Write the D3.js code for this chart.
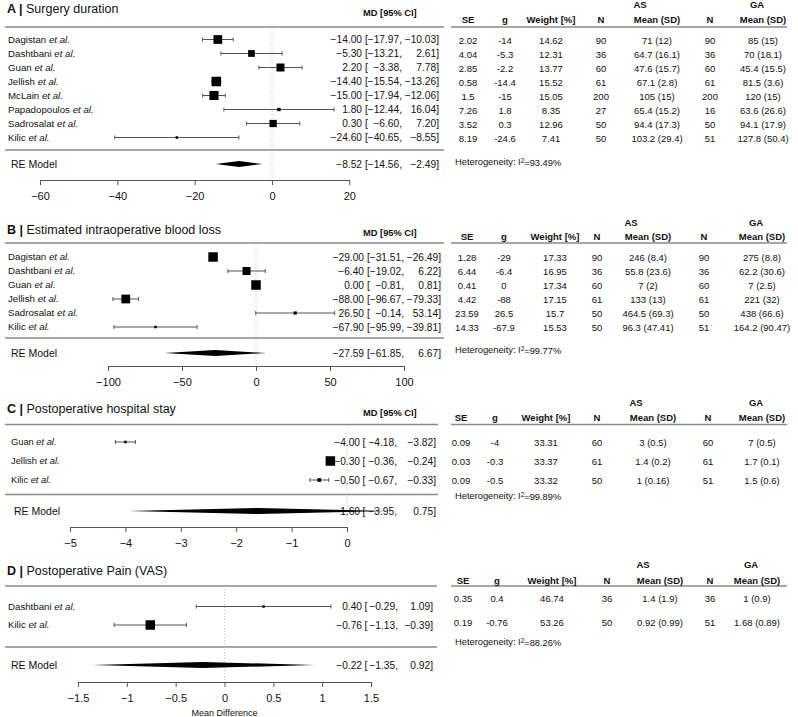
<!DOCTYPE html>
<html>
<head>
<meta charset="utf-8">
<script src="https://cdn.jsdelivr.net/npm/d3@7"></script>
<style>
  body { margin: 0; background: #fff; }
  svg text { font-family: "Liberation Sans", Arial, Helvetica, sans-serif; fill: #111; }
</style>
</head>
<body>
<svg id="fig" width="798" height="717"></svg>
<script>
// ---------- data ----------

// A | Surgery duration
const studiesA = ["Dagistan", "Dashtbani", "Guan", "Jellish", "McLain", "Papadopoulos", "Sadrosalat", "Kilic"];
const mdA = [-14.00, -5.30, 2.20, -14.40, -15.00, 1.80, 0.30, -24.60];
const loA = [-17.97, -13.21, -3.38, -15.54, -17.94, -12.44, -6.60, -40.65];
const hiA = [-10.03, 2.61, 7.78, -13.26, -12.06, 16.04, 7.20, -8.55];
const seA = ["2.02", "4.04", "2.85", "0.58", "1.5", "7.26", "3.52", "8.19"];
const gA = ["-14", "-5.3", "-2.2", "-14.4", "-15", "1.8", "0.3", "-24.6"];
const weightA = [14.62, 12.31, 13.77, 15.52, 15.05, 8.35, 12.96, 7.41];
const nAsA = [90, 36, 60, 61, 200, 27, 50, 50];
const meanAsA = ["71 (12)", "64.7 (16.1)", "47.6 (15.7)", "67.1 (2.8)", "105 (15)", "65.4 (15.2)", "94.4 (17.3)", "103.2 (29.4)"];
const nGaA = [90, 36, 60, 61, 200, 16, 50, 51];
const meanGaA = ["85 (15)", "70 (18.1)", "45.4 (15.5)", "81.5 (3.6)", "120 (15)", "63.6 (26.6)", "94.1 (17.9)", "127.8 (50.4)"];
const reA = [-8.52, -14.56, -2.49];
const i2A = "93.49%";
const ticksA = [-60, -40, -20, 0, 20];

// B | Estimated intraoperative blood loss
const studiesB = ["Dagistan", "Dashtbani", "Guan", "Jellish", "Sadrosalat", "Kilic"];
const mdB = [-29.00, -6.40, 0.00, -88.00, 26.50, -67.90];
const loB = [-31.51, -19.02, -0.81, -96.67, -0.14, -95.99];
const hiB = [-26.49, 6.22, 0.81, -79.33, 53.14, -39.81];
const seB = ["1.28", "6.44", "0.41", "4.42", "23.59", "14.33"];
const gB = ["-29", "-6.4", "0", "-88", "26.5", "-67.9"];
const weightB = [17.33, 16.95, 17.34, 17.15, 15.7, 15.53];
const nAsB = [90, 36, 60, 61, 50, 50];
const meanAsB = ["246 (8.4)", "55.8 (23.6)", "7 (2)", "133 (13)", "464.5 (69.3)", "96.3 (47.41)"];
const nGaB = [90, 36, 60, 61, 50, 51];
const meanGaB = ["275 (8.8)", "62.2 (30.6)", "7 (2.5)", "221 (32)", "438 (66.6)", "164.2 (90.47)"];
const reB = [-27.59, -61.85, 6.67];
const i2B = "99.77%";
const ticksB = [-100, -50, 0, 50, 100];

// C | Postoperative hospital stay
const studiesC = ["Guan", "Jellish", "Kilic"];
const mdC = [-4.00, -0.30, -0.50];
const loC = [-4.18, -0.36, -0.67];
const hiC = [-3.82, -0.24, -0.33];
const seC = ["0.09", "0.03", "0.09"];
const gC = ["-4", "-0.3", "-0.5"];
const weightC = [33.31, 33.37, 33.32];
const nAsC = [60, 61, 50];
const meanAsC = ["3 (0.5)", "1.4 (0.2)", "1 (0.16)"];
const nGaC = [60, 61, 51];
const meanGaC = ["7 (0.5)", "1.7 (0.1)", "1.5 (0.6)"];
const reC = [-1.60, -3.95, 0.75];
const i2C = "99.89%";
const ticksC = [-5, -4, -3, -2, -1, 0];

// D | Postoperative Pain (VAS)
const studiesD = ["Dashtbani", "Kilic"];
const mdD = [0.40, -0.76];
const loD = [-0.29, -1.13];
const hiD = [1.09, -0.39];
const seD = ["0.35", "0.19"];
const gD = ["0.4", "-0.76"];
const weightD = [46.74, 53.26];
const nAsD = [36, 50];
const meanAsD = ["1.4 (1.9)", "0.92 (0.99)"];
const nGaD = [36, 51];
const meanGaD = ["1 (0.9)", "1.68 (0.89)"];
const reD = [-0.22, -1.35, 0.92];
const i2D = "88.26%";
const ticksD = [-1.5, -1, -0.5, 0, 0.5, 1, 1.5];

const headers = ["SE", "g", "Weight [%]", "N", "Mean (SD)", "N", "Mean (SD)"];

// ---------- panels ----------

const panels = [
  { letter: "A", title: "Surgery duration", studies: studiesA, md: mdA, lo: loA, hi: hiA,
    cells: [seA, gA, weightA, nAsA, meanAsA, nGaA, meanGaA], weight: weightA, re: reA, i2: i2A, ticks: ticksA,
    L: { title: 9, md: 13, asga: 5, head: 20, top: 27, row0: 39.5, step: 14, bottom: 150, re: 164, het: 162,
         axis: 180, xRange: [40, 349.3], lab: 8, ci: [362, 365, 402, 439], lineEnd: 444,
         cols: [468, 505, 551, 601, 657, 710, 763] } },
  { letter: "B", title: "Estimated intraoperative blood loss", studies: studiesB, md: mdB, lo: loB, hi: hiB,
    cells: [seB, gB, weightB, nAsB, meanAsB, nGaB, meanGaB], weight: weightB, re: reB, i2: i2B, ticks: ticksB,
    L: { title: 230, md: 233, asga: 223, head: 237, top: 243, row0: 257, step: 14, bottom: 338, re: 353, het: 350,
         axis: 366, xRange: [108, 404], lab: 8, ci: [364, 367, 404, 441], lineEnd: 444,
         cols: [467, 504, 555, 597, 648, 704, 762] } },
  { letter: "C", title: "Postoperative hospital stay", studies: studiesC, md: mdC, lo: loC, hi: hiC,
    cells: [seC, gC, weightC, nAsC, meanAsC, nGaC, meanGaC], weight: weightC, re: reC, i2: i2C, ticks: ticksC,
    L: { title: 409, md: 413, asga: 403, head: 418, top: 424.5, row0: 442, step: 19, bottom: 494.5, re: 511, het: 496,
         axis: 527, xRange: [70, 347], lab: 11, ci: [360, 362.5, 397, 436], lineEnd: 438, small: true,
         cols: [461, 495, 546, 597, 653, 708, 762] } },
  { letter: "D", title: "Postoperative Pain (VAS)", studies: studiesD, md: mdD, lo: loD, hi: hiD,
    cells: [seD, gD, weightD, nAsD, meanAsD, nGaD, meanGaD], weight: weightD, re: reD, i2: i2D, ticks: ticksD,
    L: { title: 571, md: null, asga: 565, head: 580.5, top: 586, row0: 606.5, step: 18.5, bottom: 647, re: 665, het: 642,
         axis: 682, xRange: [78, 371], lab: 8, ci: [362, 364.5, 398, 433], lineEnd: 437, tab0: 599, tabStep: 23.5,
         cols: [463, 497, 552, 607, 660, 710, 757], xlabel: "Mean Difference" } }
];

const svg = d3.select("#fig");
const fmt2 = d3.format(".2f");
const tickFmt = d3.format("~g");

function ciText(g, L, y, est, lo, hi) {
  const t = g.append("g").style("font-size", "10.2px");
  t.append("text").attr("x", L.ci[0]).attr("y", y).attr("dy", "0.35em").attr("text-anchor", "end").text(fmt2(est));
  t.append("text").attr("x", L.ci[1]).attr("y", y).attr("dy", "0.35em").text("[");
  t.append("text").attr("x", L.ci[2]).attr("y", y).attr("dy", "0.35em").attr("text-anchor", "end").text(fmt2(lo) + ",");
  t.append("text").attr("x", L.ci[3]).attr("y", y).attr("dy", "0.35em").attr("text-anchor", "end").text(fmt2(hi) + "]");
}

function drawPanel(p) {
  const L = p.L;
  const g = svg.append("g");
  const x = d3.scaleLinear().domain(d3.extent(p.ticks)).range(L.xRange);
  const size = d3.scaleLinear().domain(d3.extent(p.weight)).range([2.5, 9.5]);
  const rowY = i => L.row0 + i * L.step;
  const tabY = i => (L.tab0 != null ? L.tab0 + i * L.tabStep : rowY(i) + 1);

  // title
  const t = g.append("text").attr("x", 7).attr("y", L.title).attr("dy", "0.35em").style("font-size", "12.5px");
  t.append("tspan").style("font-weight", "bold").text(p.letter + " |");
  t.append("tspan").text(" " + p.title);

  if (L.md != null) {
    g.append("text").attr("x", 363).attr("y", L.md).attr("dy", "0.35em")
      .style("font-size", "9.3px").style("font-weight", "bold").text("MD [95% CI]");
  }

  // separator lines
  g.append("line").attr("x1", 5).attr("x2", L.lineEnd).attr("y1", L.top).attr("y2", L.top)
    .attr("stroke", "#8a8a8a").attr("stroke-width", 1.3);
  g.append("line").attr("x1", 5).attr("x2", L.lineEnd).attr("y1", L.bottom).attr("y2", L.bottom)
    .attr("stroke", "#8a8a8a").attr("stroke-width", 1.3);
  g.append("line").attr("x1", 451).attr("x2", 787).attr("y1", L.top).attr("y2", L.top)
    .attr("stroke", "#8a8a8a").attr("stroke-width", 1.3);

  // zero reference
  g.append("line").attr("x1", x(0)).attr("x2", x(0)).attr("y1", L.top + 3).attr("y2", L.axis - 2)
    .attr("stroke", "#bdbdbd").attr("stroke-dasharray", "1,2");

  // study labels
  const fsLab = L.small ? "9.3px" : "9.7px";
  p.studies.forEach((s, i) => {
    const lt = g.append("text").attr("x", L.lab).attr("y", rowY(i)).attr("dy", "0.35em").style("font-size", fsLab);
    lt.append("tspan").text(s + " ");
    lt.append("tspan").style("font-style", "italic").text("et al.");
  });
  g.append("text").attr("x", L.lab + 3).attr("y", L.re).attr("dy", "0.35em").style("font-size", "10.5px").text("RE Model");

  // CIs and squares
  p.studies.forEach((s, i) => {
    const y = rowY(i);
    const ci = g.append("g").attr("stroke", "#555").attr("stroke-width", 1);
    ci.append("line").attr("x1", x(p.lo[i])).attr("x2", x(p.hi[i])).attr("y1", y).attr("y2", y);
    ci.append("line").attr("x1", x(p.lo[i])).attr("x2", x(p.lo[i])).attr("y1", y - 2).attr("y2", y + 2);
    ci.append("line").attr("x1", x(p.hi[i])).attr("x2", x(p.hi[i])).attr("y1", y - 2).attr("y2", y + 2);
    const sz = size(p.weight[i]);
    g.append("rect").attr("x", x(p.md[i]) - sz / 2).attr("y", y - sz / 2)
      .attr("width", sz).attr("height", sz).attr("fill", "#000");
    ciText(g, L, y, p.md[i], p.lo[i], p.hi[i]);
  });

  // summary
  ciText(g, L, L.re, p.re[0], p.re[1], p.re[2]);
  const h = 3;
  g.append("path")
    .attr("d", `M${x(p.re[1])},${L.re} L${x(p.re[0])},${L.re - h} L${x(p.re[2])},${L.re} L${x(p.re[0])},${L.re + h} Z`)
    .attr("fill", "#000");

  // axis
  const axis = d3.axisBottom(x).tickValues(p.ticks).tickFormat(tickFmt)
    .tickSize(5).tickSizeOuter(0).tickPadding(7);
  const ag = g.append("g").attr("transform", `translate(0,${L.axis})`).call(axis);
  ag.selectAll("path, line").attr("stroke", "#555");
  ag.selectAll("text").style("font-size", "11px");

  if (L.xlabel) {
    g.append("text").attr("x", x(0)).attr("y", 713).attr("text-anchor", "middle")
      .attr("dy", "0.35em").style("font-size", "9px").text(L.xlabel);
  }

  // table
  const tb = g.append("g").attr("text-anchor", "middle").style("font-size", "9.5px");
  tb.append("text").attr("x", L.cols[4] - 17).attr("y", L.asga).attr("dy", "0.35em")
    .style("font-weight", "bold").text("AS");
  tb.append("text").attr("x", L.cols[6] - 6).attr("y", L.asga).attr("dy", "0.35em")
    .style("font-weight", "bold").text("GA");
  headers.forEach((hd, j) => {
    tb.append("text").attr("x", L.cols[j]).attr("y", L.head).attr("dy", "0.35em")
      .style("font-weight", "bold").text(hd);
  });
  p.cells.forEach((col, j) => {
    col.forEach((v, i) => {
      tb.append("text").attr("x", L.cols[j]).attr("y", tabY(i)).attr("dy", "0.35em").text(v);
    });
  });
  const het = g.append("text").attr("x", 455).attr("y", L.het).attr("dy", "0.35em").style("font-size", "9.3px");
  het.append("tspan").text("Heterogeneity:  I");
  het.append("tspan").attr("dy", "-0.4em").style("font-size", "6.5px").text("2");
  het.append("tspan").attr("dy", "0.4em").text("=" + p.i2);
}

panels.forEach(drawPanel);
</script>
</body>
</html>
